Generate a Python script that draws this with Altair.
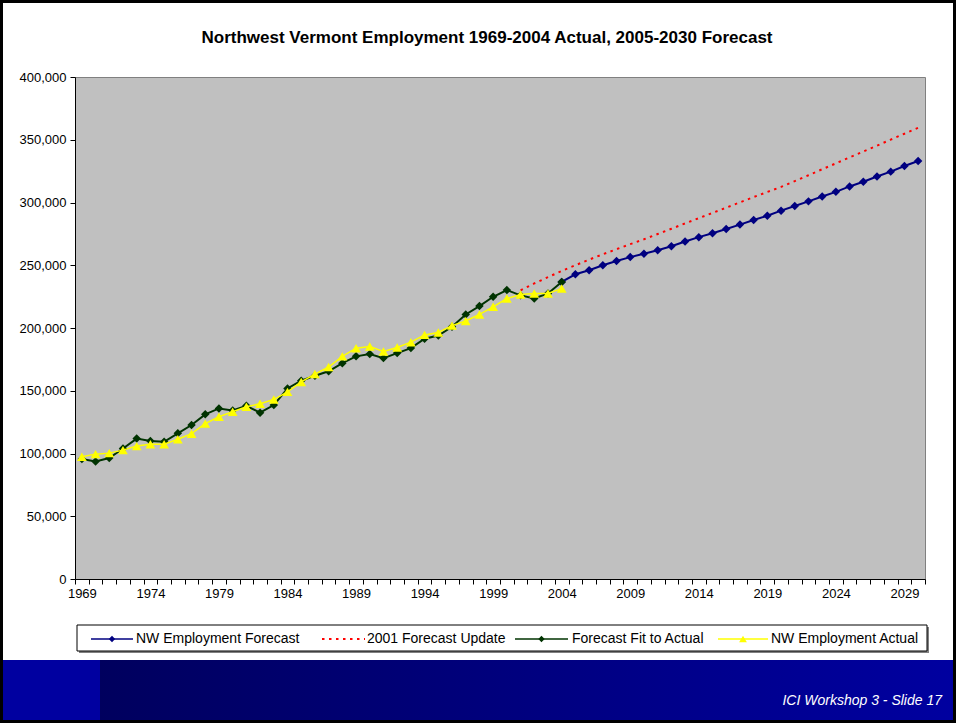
import altair as alt
import pandas as pd

# ---- data (employment, persons) ----
actual_years = list(range(1969, 2005))
actual_values = [97400, 99500, 100300, 102700, 105900, 107400, 107400, 111400, 115800, 123800,
                 129300, 133300, 137200, 139600, 143000, 149100, 157000, 163300, 168900, 177400,
                 183900, 185300, 181300, 184500, 188700, 194500, 196400, 201900, 205600, 210800,
                 216900, 223500, 226700, 227500, 227500, 231400]

fit_years = list(range(1969, 2005))
fit_values = [95600, 93700, 96400, 104000, 111900, 110000, 109300, 116100, 122700, 131200,
              135900, 134300, 138000, 132500, 138600, 151800, 158000, 162000, 165500, 172000,
              177400, 179200, 176000, 180000, 184000, 191400, 194000, 201000, 210800, 217500,
              224900, 230200, 226000, 223500, 227500, 236700]

forecast_years = list(range(2004, 2031))
forecast_values = [236700, 242800, 246000, 250000, 253400, 256500, 259200, 262000, 265200, 268900,
                   272400, 275500, 278900, 282400, 286100, 289500, 293500, 297200, 300900, 304800,
                   308500, 312800, 316500, 320700, 324600, 329100, 333100]

update_years = list(range(2001, 2031))
update_values = [230000, 235500, 240500, 245500, 250000, 254500, 258700, 262800, 266800, 270700,
                 274900, 279100, 283300, 287500, 291700, 295900, 300100, 304300, 308400, 312400,
                 317000, 321700, 326500, 331200, 335900, 340600, 345300, 350100, 354800, 359500]

series_names = ["NW Employment Forecast", "2001 Forecast Update",
                "Forecast Fit to Actual", "NW Employment Actual"]
series_colors = ["#000080", "#FF0000", "#003300", "#FFFF00"]

title_text = "Northwest Vermont Employment 1969-2004 Actual, 2005-2030 Forecast"
footer_text = "ICI Workshop 3 -  Slide 17"

FONT = "Liberation Sans"
W, H = 850, 502

# ---- shared encodings ----
x_ticks = [1968.5 + k for k in range(63)]  # category boundaries
x_enc = alt.X(
    "year:Q",
    scale=alt.Scale(domain=[1968.5, 2030.5], nice=False, zero=False),
    axis=alt.Axis(values=x_ticks, title=None, grid=False, tickSize=5,
                  labelExpr="(datum.value + 0.5) % 5 == 4 ? format(datum.value + 0.5, 'd') : ''",
                  labelOffset=6.85, labelPadding=3, labelFlush=False, labelOverlap=False),
)
y_enc = alt.Y(
    "value:Q",
    scale=alt.Scale(domain=[0, 400000], nice=False),
    axis=alt.Axis(values=list(range(0, 400001, 50000)), format=",.0f", title=None,
                  grid=False, tickSize=5, labelPadding=4),
)


def frame(years, values):
    return pd.DataFrame({"year": years, "value": values})


def series_layer(df, color, shape=None, size=70, width=2, dash=None):
    line_kw = dict(color=color, strokeWidth=width)
    if dash:
        line_kw["strokeDash"] = dash
    line = alt.Chart(df).mark_line(**line_kw).encode(x=x_enc, y=y_enc)
    if shape is None:
        return line
    pts = alt.Chart(df).mark_point(shape=shape, filled=True, size=size, color=color,
                                   opacity=1).encode(x=x_enc, y=y_enc)
    return line + pts


forecast = series_layer(frame(forecast_years, forecast_values), series_colors[0], "diamond", 72)
update = series_layer(frame(update_years, update_values), series_colors[1], dash=[2.5, 4.5])
fit = series_layer(frame(fit_years, fit_values), series_colors[2], "diamond", 72)
actual = series_layer(frame(actual_years, actual_values), series_colors[3], "triangle-up", 95, 1.5)

one = pd.DataFrame({"k": [0]})

# ---- title ----
title = alt.Chart(one).mark_text(text=title_text, font=FONT, fontSize=17, fontWeight="bold",
                                 color="black", baseline="middle", align="center").encode(
    x=alt.value(412), y=alt.value(-39))

# ---- legend box ----
legend_shadow = alt.Chart(one).mark_rect(fill="#808080").encode(
    x=alt.value(4), x2=alt.value(854), y=alt.value(550), y2=alt.value(576))
legend_box = alt.Chart(one).mark_rect(fill="white", stroke="black", strokeWidth=1).encode(
    x=alt.value(2), x2=alt.value(852), y=alt.value(548), y2=alt.value(574))

# (line start, line end, marker, text start) for each entry, in view pixels
legend_layout = [(16, 58, "diamond", 61), (247, 290, None, 292),
                 (440, 493, "diamond", 497), (643, 693, "triangle-up", 696)]
legend_layers = []
ly = 562
for name, color, (x0, x1, shp, tx) in zip(series_names, series_colors, legend_layout):
    kw = dict(color=color, strokeWidth=1.5)
    if shp is None:
        kw["strokeDash"] = [2.5, 4.5]
        kw["strokeWidth"] = 2
    legend_layers.append(alt.Chart(one).mark_rule(**kw).encode(
        x=alt.value(x0), x2=alt.value(x1), y=alt.value(ly)))
    if shp:
        legend_layers.append(alt.Chart(one).mark_point(shape=shp, filled=True, opacity=1,
                                                       size=40 if shp == "diamond" else 60,
                                                       color=color).encode(
            x=alt.value((x0 + x1) / 2), y=alt.value(ly)))
    legend_layers.append(alt.Chart(one).mark_text(text=name, font=FONT, fontSize=14,
                                                  color="black", align="left",
                                                  baseline="middle").encode(
        x=alt.value(tx), y=alt.value(ly)))

# ---- slide footer band ----
footer_left = alt.Chart(one).mark_rect(fill="#0000A0").encode(
    x=alt.value(-75), x2=alt.value(25), y=alt.value(583), y2=alt.value(646))
footer_grad = alt.Chart(one).mark_rect(
    fill=alt.LinearGradient(gradient="linear",
                            stops=[alt.GradientStop(color="#00005E", offset=0),
                                   alt.GradientStop(color="#0000A0", offset=1)],
                            x1=0, x2=1, y1=0, y2=0)).encode(
    x=alt.value(25), x2=alt.value(881), y=alt.value(583), y2=alt.value(646))
footer_label = alt.Chart(one).mark_text(text=footer_text, font=FONT, fontSize=14,
                                        fontStyle="italic", color="white", align="right",
                                        baseline="middle").encode(
    x=alt.value(867), y=alt.value(624))
page_border = alt.Chart(one).mark_rect(fill=None, filled=False, stroke="black",
                                       strokeWidth=3).encode(
    x=alt.value(-73.5), x2=alt.value(879.5), y=alt.value(-75.5), y2=alt.value(644.5))

chart = alt.layer(
    forecast, update, fit, actual, title,
    legend_shadow, legend_box, *legend_layers,
    footer_left, footer_grad, footer_label, page_border,
).properties(
    width=W, height=H,
    autosize=alt.AutoSizeParams(type="none"),
    padding={"left": 75, "top": 77, "right": 31, "bottom": 144},
).configure(
    background="white",
).configure_view(
    fill="#C0C0C0", stroke="#808080", strokeWidth=1,
).configure_axis(
    domainColor="black", tickColor="black", labelColor="black",
    labelFont=FONT, labelFontSize=13, domainWidth=1, tickWidth=1,
)

chart.save("out.html", embed_options={"renderer": "svg", "actions": False})
